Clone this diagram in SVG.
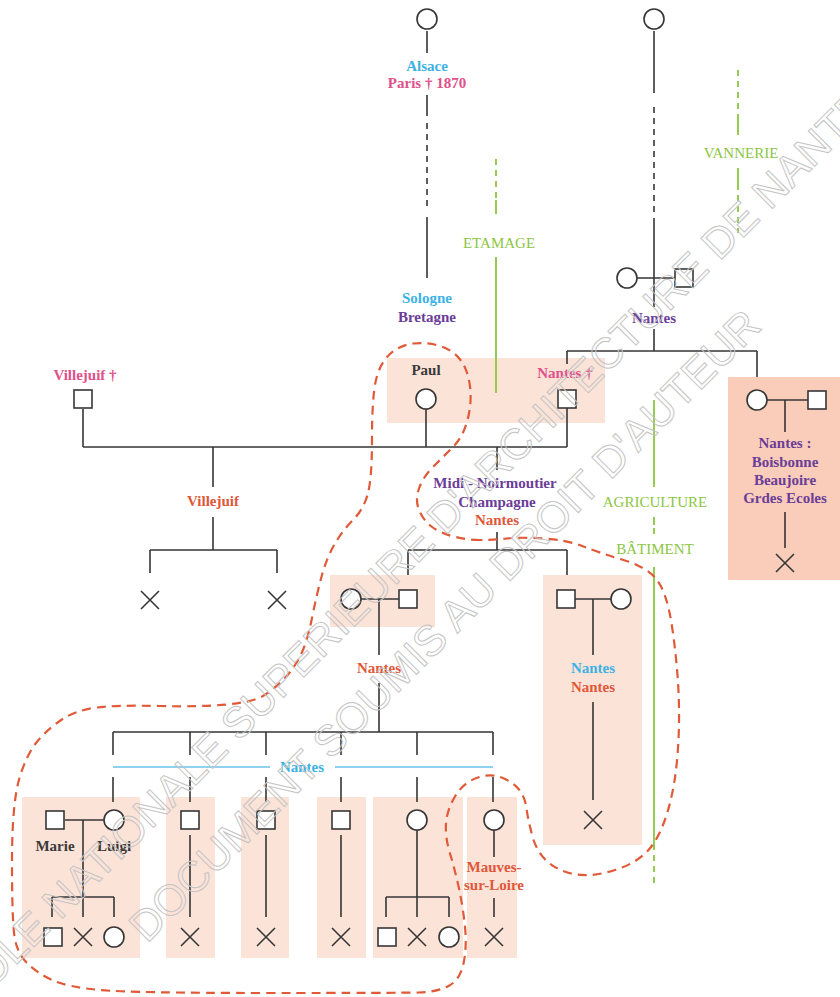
<svg xmlns="http://www.w3.org/2000/svg" width="840" height="997" viewBox="0 0 840 997">
<style>
  .ln{stroke:#363636;stroke-width:1.6;fill:none}
  .dl{stroke:#363636;stroke-width:1.6;fill:none;stroke-dasharray:6 5}
  .gl{stroke:#8cc63f;stroke-width:1.8;fill:none}
  .gd{stroke:#8cc63f;stroke-width:1.8;fill:none;stroke-dasharray:6 5}
  .bl{stroke:#8fd2f0;stroke-width:1.8;fill:none}
  .sym{stroke:#363636;stroke-width:1.6;fill:#fff}
  .box{fill:#fce3d8}
  .box2{fill:#f9cdb9}
  text{font-family:"Liberation Serif","Times New Roman",serif;font-size:15px;font-weight:bold;text-anchor:middle}
  .cy{fill:#3cb2e4}.pk{fill:#e0508a}.pu{fill:#6b3d98}.rd{fill:#e0573a}.gr{fill:#8cc63f;font-weight:normal}.bk{fill:#3a3a3a}
  .wm{font-family:"Liberation Sans",Arial,sans-serif;font-size:43px;font-weight:normal;fill:none;stroke:#c4c4c4;stroke-width:1}
  .hull{fill:none;stroke:#e05a38;stroke-width:2.2;stroke-dasharray:9 6}
</style>
<defs>
  <circle id="c" r="10" class="sym"/>
  <rect id="s" x="-9" y="-9" width="18" height="18" class="sym"/>
  <path id="x" d="M-9,-9 L9,9 M9,-9 L-9,9" class="ln"/>
</defs>
<rect width="840" height="997" fill="#fff"/>

<!-- boxes -->
<g id="boxes">
  <rect class="box" x="387" y="358" width="218" height="65"/>
  <rect class="box2" x="728" y="377" width="112" height="203"/>
  <rect class="box" x="330" y="575" width="105" height="52"/>
  <rect class="box" x="543" y="575" width="99" height="270"/>
  <rect class="box" x="22" y="797" width="118" height="161"/>
  <rect class="box" x="166" y="797" width="49" height="161"/>
  <rect class="box" x="241" y="797" width="48" height="161"/>
  <rect class="box" x="317" y="797" width="49" height="161"/>
  <rect class="box" x="373" y="797" width="90" height="161"/>
  <rect class="box" x="467" y="797" width="50" height="161"/>
</g>

<!-- trade lines (green) -->
<g id="trades">
  <path class="gd" d="M496,159 V200"/><path class="gl" d="M496,200 V214 M496,257 V393"/>
  <text class="gr" x="499" y="248">ETAMAGE</text>
  <path class="gd" d="M738,70 V115"/><path class="gl" d="M738,115 V135 M738,168 V190"/><path class="gd" d="M738,195 V233"/>
  <text class="gr" x="741" y="158">VANNERIE</text>
  <path class="gl" d="M654,400 V487 M654,517 V525 M654,567 V850"/><path class="gd" d="M654,528 V537 M654,855 V885"/>
  <text class="gr" x="655" y="507">AGRICULTURE</text>
  <text class="gr" x="655" y="554">BÂTIMENT</text>
</g>

<!-- connectors -->
<g id="connectors">
  <path class="ln" d="M427,31 V53 M427,95 V116 M427,217 V278"/>
  <path class="dl" d="M427,123 V208"/>
  <path class="ln" d="M654,31 V93 M654,218 V278 M637,278 H675 M654,278 V307 M654,329 V351 M567,351 H757 M567,351 V364 M757,351 V377"/>
  <path class="dl" d="M654,107 V212"/>
  <path class="ln" d="M83,409 V447 M426,409 V447 M567,408 V447 M83,447 H567"/>
  <path class="ln" d="M213,447 V487 M213,517 V550 M150,550 H277 M150,550 V573 M277,550 V573"/>
  <path class="ln" d="M497,447 V470 M497,532 V550 M408,550 H567 M408,550 V575 M567,550 V575"/>
  <path class="ln" d="M361,599 H399 M379,599 V655 M379,683 V732"/>
  <path class="ln" d="M575,599 H611 M593,599 V655 M593,702 V800"/>
  <path class="ln" d="M767,400 H808 M785,400 V432 M785,512 V548"/>
  <path class="ln" d="M113,732 H493 M113,732 V755 M190,732 V755 M266,732 V755 M341,732 V755 M417,732 V755 M493,732 V755"/>
  <path class="bl" d="M113,767 H270 M335,767 H493"/>
  <path class="ln" d="M113,777 V802 M190,777 V802 M266,777 V802 M341,777 V802 M417,777 V802 M493,777 V802"/>
  <path class="ln" d="M65,820 H104 M83,820 V917 M52,897 H114 M52,897 V917 M114,897 V917"/>
  <path class="ln" d="M190,835 V917 M266,835 V917 M341,835 V917"/>
  <path class="ln" d="M417,830 V917 M386,897 H449 M386,897 V917 M449,897 V917"/>
  <path class="ln" d="M494,830 V857 M494,898 V917"/>
</g>

<!-- nodes -->
<g id="n-top-left"><use href="#c" x="427" y="19"/></g>
<g id="n-top-right"><use href="#c" x="654" y="19"/></g>
<g id="lbl-alsace"><text class="cy" x="427" y="71">Alsace</text><text class="pk" x="427" y="88">Paris † 1870</text></g>
<g id="lbl-sologne"><text class="cy" x="427" y="303">Sologne</text><text class="pu" x="427" y="322">Bretagne</text></g>
<g id="n-couple-top"><use href="#c" x="627" y="278"/><use href="#s" x="684" y="278"/><text class="pu" x="654" y="323">Nantes</text></g>
<g id="n-villejuif"><text class="pk" x="85" y="380">Villejuif †</text><use href="#s" x="83" y="399"/></g>
<g id="n-paul"><text class="bk" x="426" y="375">Paul</text><use href="#c" x="426" y="399"/></g>
<g id="n-nantes-dag"><text class="pk" x="565" y="378">Nantes †</text><use href="#s" x="567" y="399"/></g>
<g id="n-right-couple"><use href="#c" x="757" y="400"/><use href="#s" x="817" y="400"/>
  <text class="pu" x="785" y="448">Nantes :</text><text class="pu" x="785" y="467">Boisbonne</text><text class="pu" x="785" y="485">Beaujoire</text><text class="pu" x="785" y="503">Grdes Ecoles</text>
  <use href="#x" x="785" y="563"/></g>
<g id="n-villejuif-kids"><text class="rd" x="213" y="506">Villejuif</text><use href="#x" x="150" y="600"/><use href="#x" x="277" y="600"/></g>
<g id="lbl-midi"><text class="pu" x="495" y="488">Midi - Noirmoutier</text><text class="pu" x="497" y="507">Champagne</text><text class="rd" x="497" y="525">Nantes</text></g>
<g id="n-couple-mid"><use href="#c" x="351" y="599"/><use href="#s" x="408" y="599"/><text class="rd" x="379" y="673">Nantes</text></g>
<g id="n-couple-right"><use href="#s" x="566" y="599"/><use href="#c" x="621" y="599"/><text class="cy" x="593" y="673">Nantes</text><text class="rd" x="593" y="692">Nantes</text><use href="#x" x="593" y="820"/></g>
<g id="lbl-nantes-bottom"><text class="cy" x="302" y="772">Nantes</text></g>
<g id="n-marie-luigi"><use href="#s" x="55" y="820"/><use href="#c" x="114" y="820"/>
  <text class="bk" x="55" y="851">Marie</text><text class="bk" x="114" y="851">Luigi</text>
  <use href="#s" x="53" y="937"/><use href="#x" x="83" y="937"/><use href="#c" x="114" y="937"/></g>
<g id="n-child2"><use href="#s" x="190" y="820"/><use href="#x" x="190" y="937"/></g>
<g id="n-child3"><use href="#s" x="266" y="820"/><use href="#x" x="266" y="937"/></g>
<g id="n-child4"><use href="#s" x="341" y="820"/><use href="#x" x="341" y="937"/></g>
<g id="n-child5"><use href="#c" x="417" y="820"/><use href="#s" x="387" y="937"/><use href="#x" x="417" y="937"/><use href="#c" x="449" y="937"/></g>
<g id="n-child6"><use href="#c" x="494" y="820"/><text class="rd" x="494" y="872">Mauves-</text><text class="rd" x="494" y="890">sur-Loire</text><use href="#x" x="494" y="937"/></g>

<!-- dashed hull -->
<path class="hull" d="M 480,540 Q 467,540 453.5,536.5 Q 440,533 431.5,526.5 Q 423,520 419,510 Q 415,500 419,488.5 Q 423,477 433,467 Q 443,457 453,447 Q 463,437 467.5,420 Q 472,403 470,386.5 Q 468,370 460.5,360 Q 453,350 440,346 Q 427,342 413.5,343.5 Q 400,345 390,354 Q 380,363 376,380 Q 372,397 372,438.5 Q 372,480 367.5,495 Q 363,510 353,520 Q 343,530 335,543.5 Q 327,557 322,575 Q 317,593 312,618 Q 307,643 300,656.5 Q 293,670 283,680 Q 273,690 263,696 Q 253,702 226.5,704.5 Q 200,707 158.5,706 Q 117,705 97,707.5 Q 77,710 63.5,718.5 Q 50,727 38.5,740 Q 27,753 19.5,778 Q 12,803 12,861.5 Q 12,920 14.5,936.5 Q 17,953 27,963 Q 37,973 52,980 Q 67,987 100,990 Q 133,993 266.5,993 Q 400,993 418.5,992.5 Q 437,992 448.5,986 Q 460,980 463.5,963.5 Q 467,947 465,927 Q 463,907 459,888.5 Q 455,870 450,853.5 Q 445,837 446,823.5 Q 447,810 455,796.5 Q 463,783 476.5,778 Q 490,773 501.5,777.5 Q 513,782 519,789.5 Q 525,797 526.5,808.5 Q 528,820 532.5,836.5 Q 537,853 548.5,862.5 Q 560,872 576.5,874.5 Q 593,877 615,870 Q 637,863 648.5,850 Q 660,837 667.5,812 Q 675,787 677.5,755 Q 680,723 678.5,691.5 Q 677,660 672,626.5 Q 667,593 657,580 Q 647,567 623.5,560 Q 600,553 583.5,546.5 Q 567,540 543.5,538.5 Q 520,537 506.5,538.5 Q 493,540 480,540 Z"/>

<!-- watermark -->
<g id="watermark">
  <text class="wm" transform="translate(421,560) rotate(-45)">ECOLE NATIONALE SUPERIEURE D'ARCHITECTURE DE NANTES</text>
  <text class="wm" transform="translate(455,636) rotate(-45)">DOCUMENT SOUMIS AU DROIT D'AUTEUR</text>
</g>
</svg>
